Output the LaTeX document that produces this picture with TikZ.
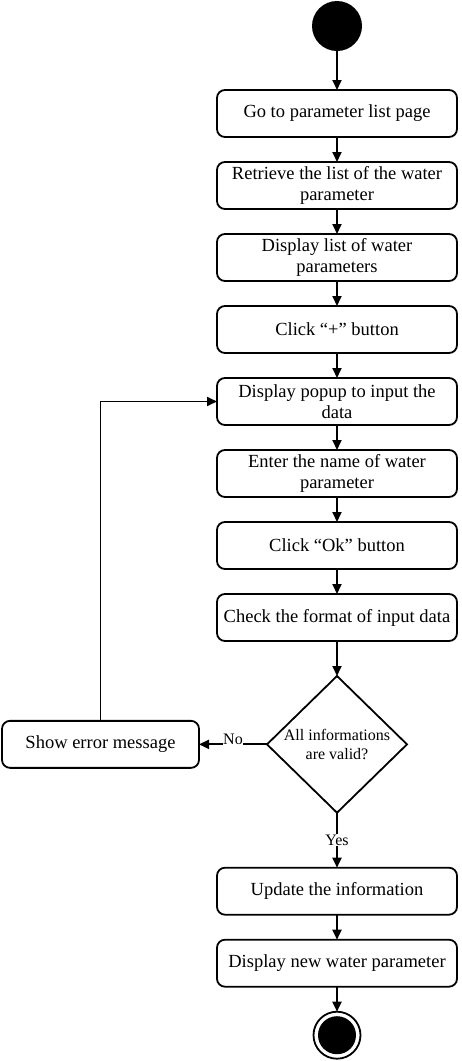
\documentclass[tikz,border=0pt]{standalone}
\usepackage{fontspec}
\setmainfont{Liberation Serif}
\usetikzlibrary{positioning,arrows.meta,shapes.geometric}
\tikzset{
  actbox/.style={rectangle, rounded corners=8pt, draw, line width=1.8pt, minimum width=240pt, minimum height=47pt, inner sep=2pt, outer sep=0pt, align=center, font=\fontsize{18.5}{21}\selectfont},
  decision/.style={diamond, draw, line width=1.8pt, minimum width=140pt, minimum height=130pt, inner sep=0pt, outer sep=0pt, align=center, font=\fontsize{16}{19}\selectfont},
  startnode/.style={circle, fill=black, minimum size=50pt, inner sep=0pt, outer sep=0pt},
  finalnode/.style={circle, draw, line width=1.8pt, minimum size=47pt, inner sep=0pt, outer sep=0pt,
                    path picture={\fill (path picture bounding box.center) circle (19pt);}},
  fwd/.style={-{Triangle[length=10pt,width=9pt]}, line width=1.8pt},
  guard/.style={font=\fontsize{16}{18}\selectfont, fill=white, inner sep=0.5pt},
  node distance=25pt,
}

\begin{document}
\begin{tikzpicture}
\useasboundingbox (0pt,0pt) rectangle (461pt,-1061pt);
%Nodes
\node[startnode] (init) at (337pt,-26pt) {};
\node[actbox] (act1) [below=39pt of init] {Go to parameter list page};
\node[actbox] (act2) [below=of act1] {Retrieve the list of the water\\parameter};
\node[actbox] (act3) [below=of act2] {Display list of water\\parameters};
\node[actbox] (act4) [below=of act3] {Click “+” button};
\node[actbox] (act5) [below=of act4] {Display popup to input the\\data};
\node[actbox] (act6) [below=of act5] {Enter the name of water\\parameter};
\node[actbox] (act7) [below=of act6] {Click “Ok” button};
\node[actbox] (act8) [below=of act7] {Check the format of input data};
\node[decision] (dec) [below=35pt of act8] {All informations\\are valid?};
\node[actbox, minimum width=197pt] (err) [left=68pt of dec] {Show error message};
\node[actbox] (act9) [below=55pt of dec] {Update the information};
\node[actbox] (act10) [below=of act9] {Display new water parameter};
\node[finalnode] (final) [below=of act10] {};

%Lines
\draw[fwd] (init) -- (act1);
\draw[fwd] (act1) -- (act2);
\draw[fwd] (act2) -- (act3);
\draw[fwd] (act3) -- (act4);
\draw[fwd] (act4) -- (act5);
\draw[fwd] (act5) -- (act6);
\draw[fwd] (act6) -- (act7);
\draw[fwd] (act7) -- (act8);
\draw[fwd] (act8) -- (dec);
\draw[fwd] (dec.west) -- (err.east) node[guard, midway, anchor=base] {No};
\draw[fwd] (err.north) |- (act5.west);
\draw[fwd] (dec.south) -- (act9.north) node[guard, midway] {Yes};
\draw[fwd] (act9) -- (act10);
\draw[fwd] (act10) -- (final);
\end{tikzpicture}
\end{document}
